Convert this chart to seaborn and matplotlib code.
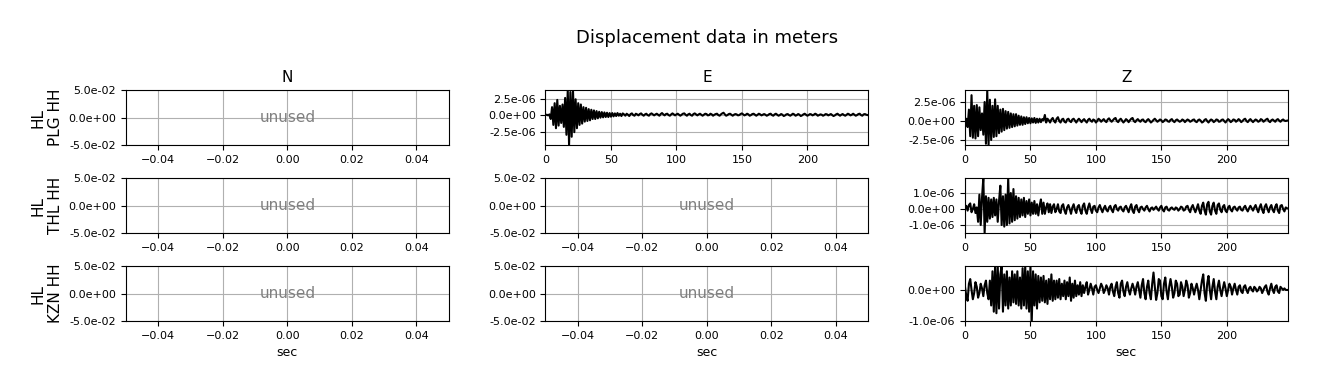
import numpy as np
import matplotlib
matplotlib.use('Agg')
import matplotlib.pyplot as plt
import matplotlib.ticker as mticker
import seaborn as sns

# station rows and component columns
stations = ['HL\nPLG HH', 'HL\nTHL HH', 'HL\nKZN HH']
components = ['N', 'E', 'Z']

# displacement samples, one per second, in micrometers
plg_e = [0.0, 0.05, -0.05, 0.1, -0.6, 1.2, -1.5, 1.8, -2.0, 2.3,
         -1.6, 1.4, -1.2, 1.6, -1.8, 2.6, -3.0, 3.8, -4.55, 3.5,
         -3.3, 3.8, -2.6, 2.4, -2.0, 1.8, -1.5, 1.6, -1.3, 1.2,
         -1.0, 1.1, -0.9, 0.9, -0.8, 0.8, -0.6, 0.7, -0.6, 0.6,
         -0.5, 0.5, -0.4, 0.45, -0.35, 0.4, -0.3, 0.35, -0.3, 0.3,
         -0.25, 0.3, -0.2, 0.25, -0.15, 0.3, -0.1, 0.2, -0.15, 0.25,
         0.1, -0.1, 0.2, 0.05, -0.15, 0.15, 0.25, 0.0, -0.1, 0.2,
         0.1, -0.05, 0.15, 0.25, 0.05, -0.1, 0.1, 0.2, 0.0, -0.1,
         0.15, 0.25, 0.1, -0.05, 0.1, 0.2, 0.05, -0.1, 0.15, 0.3,
         0.1, -0.05, 0.15, 0.2, 0.0, -0.1, 0.1, 0.25, 0.1, -0.05,
         0.1, 0.2, 0.05, -0.1, 0.05, 0.2, 0.25, 0.05, -0.1, 0.1,
         0.2, 0.0, -0.1, 0.15, 0.25, 0.1, -0.05, 0.1, 0.2, 0.05,
         -0.1, 0.05, 0.2, 0.15, -0.05, 0.0, 0.2, 0.1, -0.1, 0.05,
         0.15, 0.2, 0.0, -0.1, 0.1, 0.25, 0.35, 0.1, -0.1, 0.0,
         0.15, 0.2, 0.05, -0.1, 0.05, 0.15, 0.1, -0.05, 0.0, 0.15,
         0.25, 0.1, -0.05, 0.05, 0.2, 0.1, -0.1, 0.0, 0.15, 0.2,
         0.05, -0.1, 0.05, 0.2, 0.1, -0.05, 0.05, 0.15, 0.05, -0.1,
         0.0, 0.15, 0.2, 0.0, -0.1, 0.1, 0.2, 0.05, -0.1, 0.0,
         0.15, 0.05, -0.15, -0.05, 0.1, 0.15, 0.0, -0.1, 0.05, 0.2,
         0.1, -0.1, 0.0, 0.15, 0.05, -0.15, -0.05, 0.1, 0.2, 0.05,
         -0.1, 0.0, 0.15, 0.1, -0.05, 0.05, 0.2, 0.1, -0.1, 0.0,
         0.1, 0.05, -0.1, 0.0, 0.15, 0.1, -0.05, 0.05, 0.15, 0.0,
         -0.15, -0.05, 0.1, 0.2, 0.05, -0.1, 0.05, 0.15, 0.0, -0.1,
         0.05, 0.2, 0.1, -0.05, 0.05, 0.2, 0.05, -0.1, 0.0, 0.15,
         0.2, 0.0, -0.1, 0.1, 0.15, 0.05, 0.0]

plg_z = [0.0, 0.3, -0.8, 1.5, -2.0, 3.4, -2.2, 2.0, -2.3, 2.1,
         -2.0, 1.8, -1.2, 1.0, -1.8, 2.5, -3.0, 4.08, -3.16, 2.8,
         -2.5, 2.0, -2.1, 2.85, -2.0, 2.0, -1.6, 1.5, -1.4, 1.6,
         -1.2, 1.3, -1.0, 1.2, -0.9, 1.0, -0.8, 0.9, -0.7, 0.9,
         -0.6, 0.7, -0.5, 0.6, -0.5, 0.5, -0.4, 0.5, -0.3, 0.4,
         -0.3, 0.35, -0.2, 0.4, -0.25, 0.3, -0.2, 0.3, -0.15, 0.25,
         0.1, 0.8, -0.2, 0.3, 0.1, -0.2, 0.2, 0.4, 0.0, -0.2,
         0.3, 0.5, 0.0, -0.2, 0.2, 0.3, -0.1, -0.2, 0.2, 0.3,
         0.0, -0.15, 0.2, 0.3, 0.05, -0.2, 0.1, 0.3, 0.1, -0.15,
         0.1, 0.25, 0.0, -0.2, 0.15, 0.3, 0.05, -0.1, 0.2, 0.1,
         -0.2, 0.0, 0.3, 0.15, -0.1, 0.1, 0.25, 0.0, -0.15, 0.2,
         0.35, 0.1, -0.1, 0.1, 0.3, 0.4, 0.0, -0.15, 0.15, 0.3,
         0.05, -0.2, 0.0, 0.25, 0.1, -0.15, 0.1, 0.3, 0.4, 0.0,
         -0.15, 0.1, 0.25, 0.05, -0.1, 0.15, 0.2, -0.05, -0.15, 0.1,
         0.25, 0.05, -0.2, -0.05, 0.15, 0.3, 0.1, -0.1, 0.05, 0.2,
         0.1, -0.15, 0.0, 0.2, 0.15, -0.05, -0.1, 0.15, 0.25, 0.0,
         -0.15, 0.1, 0.2, 0.05, -0.1, 0.0, 0.2, 0.1, -0.15, 0.05,
         0.2, 0.1, -0.1, 0.0, 0.15, 0.2, -0.05, -0.15, 0.1, 0.2,
         0.05, -0.2, -0.1, 0.15, 0.25, 0.0, -0.2, 0.05, 0.2, 0.1,
         -0.15, 0.0, 0.2, 0.15, -0.1, -0.05, 0.15, 0.2, 0.0, -0.2,
         0.05, 0.25, 0.1, -0.15, 0.0, 0.2, 0.15, -0.1, 0.05, 0.25,
         0.1, -0.15, 0.0, 0.2, 0.3, 0.0, -0.15, 0.1, 0.25, 0.05,
         -0.15, 0.05, 0.2, 0.1, -0.1, 0.0, 0.25, 0.15, -0.1, 0.05,
         0.2, 0.3, 0.0, -0.15, 0.1, 0.2, 0.05, -0.1, 0.15, 0.25,
         0.05, -0.1, 0.1, 0.2, 0.05, 0.0, 0.05]

thl_z = [0.1, 0.2, -0.1, 0.25, 0.35, -0.2, 0.0, 0.3, -0.25, 0.1,
         -0.8, 0.9, -1.0, 0.7, 1.94, -1.5, 0.8, -0.8, 0.7, -0.6,
         0.6, -0.5, 0.7, -0.4, 0.6, -0.8, 0.5, 1.46, -1.0, 0.8,
         -1.1, 0.9, -1.0, 1.94, -0.9, 1.0, -0.8, 1.25, -0.7, 0.8,
         -0.6, 0.7, -0.5, 0.6, -0.4, 0.7, -0.5, 0.5, -0.3, 0.6,
         -0.4, 0.4, -0.3, 0.5, -0.3, 0.3, -0.4, 0.2, 0.6, -0.3,
         0.4, -0.3, 0.1, 0.35, -0.2, 0.3, -0.25, 0.15, 0.3, -0.2,
         0.0, 0.3, -0.15, -0.25, 0.2, 0.3, -0.1, -0.3, 0.1, 0.25,
         0.0, -0.3, 0.1, 0.3, -0.05, -0.25, 0.15, 0.25, -0.1, -0.3,
         0.2, 0.35, -0.1, -0.3, 0.1, 0.35, 0.0, -0.25, 0.15, 0.2,
         -0.1, -0.2, 0.1, 0.25, 0.0, -0.2, 0.05, 0.2, -0.05, -0.15,
         0.1, 0.2, -0.05, -0.2, 0.15, 0.25, 0.0, -0.1, 0.1, 0.15,
         -0.05, -0.15, 0.1, 0.2, 0.0, -0.2, 0.1, 0.3, -0.1, -0.25,
         0.15, 0.25, -0.05, -0.2, 0.1, 0.15, 0.0, -0.1, 0.1, 0.2,
         0.0, -0.15, 0.05, 0.1, -0.05, 0.05, 0.15, 0.0, -0.1, 0.1,
         0.2, -0.05, -0.15, 0.1, 0.15, -0.05, -0.1, 0.05, 0.1, 0.0,
         -0.05, 0.1, 0.05, -0.1, 0.0, 0.15, 0.1, -0.1, -0.05, 0.15,
         0.2, -0.05, -0.2, 0.1, 0.25, 0.0, -0.2, 0.05, 0.3, -0.1,
         -0.3, 0.2, 0.4, -0.1, -0.35, 0.3, 0.45, -0.15, -0.35, 0.2,
         0.4, -0.1, -0.3, 0.25, 0.35, -0.05, -0.2, 0.15, 0.25, -0.1,
         -0.2, 0.1, 0.2, -0.05, -0.15, 0.1, 0.15, 0.0, -0.1, 0.1,
         0.15, -0.05, -0.1, 0.1, 0.2, 0.0, -0.15, 0.05, 0.2, 0.05,
         -0.1, 0.1, 0.25, 0.0, -0.2, 0.1, 0.3, -0.05, -0.25, 0.15,
         0.3, 0.0, -0.2, 0.1, 0.25, -0.05, -0.2, 0.15, 0.3, -0.1,
         -0.25, 0.2, 0.25, 0.0, -0.15, 0.1, 0.05]

kzn_z = [0.1, -0.2, -0.35, 0.2, 0.35, 0.0, -0.3, -0.1, 0.25, 0.1,
         -0.25, -0.1, 0.2, 0.05, -0.2, 0.15, 0.3, -0.1, -0.3, 0.3,
         -0.5, 0.6, -0.7, 0.77, -0.75, 0.77, -0.6, 0.5, 0.77, -0.7,
         0.5, -0.5, 0.6, -0.6, 0.4, -0.5, 0.6, -0.4, 0.5, -0.45,
         0.6, -0.5, 0.4, -0.6, 0.7, -0.5, 0.77, -0.6, 0.6, -0.7,
         0.77, -1.0, 0.6, -0.5, 0.5, -0.6, 0.45, -0.4, 0.4, -0.35,
         0.45, -0.4, 0.3, -0.45, 0.35, -0.3, 0.5, -0.35, 0.3, -0.3,
         0.3, -0.25, 0.35, -0.3, 0.2, -0.2, 0.3, -0.3, 0.25, -0.2,
         0.4, -0.35, 0.2, -0.25, 0.3, -0.2, 0.15, -0.15, 0.25, -0.2,
         0.15, -0.1, 0.1, 0.25, -0.15, 0.0, 0.2, 0.05, -0.15, 0.1,
         0.15, 0.0, -0.1, 0.05, 0.2, 0.1, -0.1, 0.0, 0.15, 0.05,
         -0.15, 0.1, 0.2, -0.05, -0.2, 0.1, 0.25, -0.1, -0.25, 0.2,
         0.3, -0.05, -0.2, 0.1, 0.25, 0.0, -0.15, 0.05, 0.2, 0.05,
         -0.15, 0.1, 0.25, 0.0, -0.25, 0.15, 0.35, -0.1, -0.3, 0.1,
         0.3, -0.1, -0.3, 0.2, 0.56, 0.1, -0.32, -0.1, 0.35, 0.3,
         -0.2, -0.3, 0.2, 0.4, -0.05, -0.3, 0.1, 0.35, 0.1, -0.25,
         -0.1, 0.3, 0.2, -0.2, -0.15, 0.25, 0.1, -0.2, 0.0, 0.3,
         0.15, -0.25, -0.1, 0.2, 0.05, -0.15, 0.05, 0.2, 0.0, -0.3,
         0.0, 0.3, 0.5, -0.1, -0.35, 0.2, 0.45, 0.0, -0.3, 0.1,
         0.35, -0.05, -0.3, 0.1, 0.3, 0.0, -0.2, 0.05, 0.25, 0.05,
         -0.2, 0.0, 0.2, 0.1, -0.15, 0.05, 0.2, 0.0, -0.15, 0.1,
         0.15, -0.05, -0.1, 0.1, 0.15, 0.0, -0.1, 0.05, 0.1, 0.0,
         -0.05, 0.1, 0.05, -0.05, 0.0, 0.1, 0.05, -0.1, 0.0, 0.1,
         0.15, -0.05, -0.15, 0.05, 0.2, 0.0, -0.1, 0.1, 0.15, -0.05,
         -0.1, 0.1, 0.05, 0.0, 0.05, 0.0, 0.0]

# which panel holds which trace, the rest are unused
traces = {(0, 1): plg_e, (0, 2): plg_z, (1, 2): thl_z, (2, 2): kzn_z}

fig, axes = plt.subplots(3, 3, figsize=(13.18, 3.89), dpi=100)
fig.subplots_adjust(left=0.0956, right=0.977, top=0.7686, bottom=0.1748,
                    wspace=0.30, hspace=0.6)

for i in range(3):
    for j in range(3):
        ax = axes[i, j]
        data = traces.get((i, j))
        if data is None:
            ax.set_xlim(-0.05, 0.05)
            ax.set_ylim(-0.05, 0.05)
            ax.text(0.5, 0.5, 'unused', transform=ax.transAxes, ha='center',
                    va='center', color='gray', fontsize=11)
        else:
            y = np.array(data) * 1e-6
            t = np.arange(len(y))
            sns.lineplot(x=t, y=y, ax=ax, color='black', linewidth=1.5,
                         estimator=None)
            ax.set_xlim(0, t[-1] + 0.5)
            ax.set_ylim(y.min(), y.max())
        ax.yaxis.set_major_formatter(mticker.FormatStrFormatter('%.1e'))
        ax.tick_params(labelsize=8)
        ax.grid(True)
        ax.set_ylabel('')
        if i == 0:
            ax.set_title(components[j], fontsize=11)
        if j == 0:
            ax.set_ylabel(stations[i], fontsize=11)
        if i == 2:
            ax.set_xlabel('sec', fontsize=9)

fig.text(0.5364, 0.902, 'Displacement data in meters', ha='center',
         va='center', fontsize=13)

fig.savefig('out.png', dpi=100)
